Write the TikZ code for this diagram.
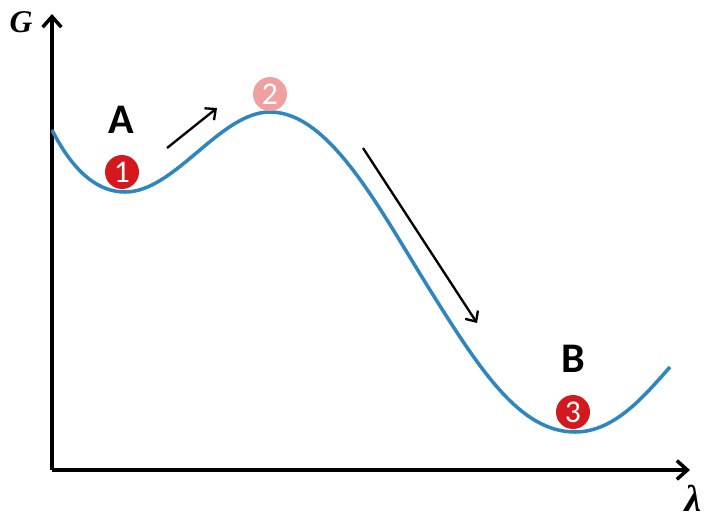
\documentclass[tikz,border=0pt]{standalone}
\usepackage{fontspec}
\setmainfont{Carlito}
\newfontfamily\axisfont{Liberation Serif}
\usetikzlibrary{arrows.meta}
\definecolor{curveblue}{RGB}{46,134,193}
\definecolor{statered}{RGB}{213,24,30}
\definecolor{statepink}{RGB}{240,160,160}
\begin{document}
\begin{tikzpicture}[x=0.03cm, y=-0.03cm,
		axis/.style={line width=3pt, -{Straight Barb[length=9pt,width=16pt,line width=3pt]}},
		move/.style={line width=2pt, -{Straight Barb[length=7pt,width=13pt,line width=2pt]}},
		statedot/.style={circle, minimum size=1.02cm, inner sep=0pt, text=white, font=\fontsize{27}{28}\selectfont},
		wellname/.style={font=\fontsize{36}{38}\selectfont\bfseries},
		axisname/.style={font=\axisfont\bfseries\itshape\fontsize{27}{28}\selectfont}]
			\useasboundingbox (0,0) rectangle (706,519);
			\coordinate (o) at (52,470);
			\coordinate (gtop) at (52,14);
			\coordinate (lend) at (690,470);
			\draw[axis] (o) -- (gtop);
			\draw[axis] (o) -- (lend);
			\node[axisname] (g) at (21,22) {G};
			\node[axisname, anchor=base, font=\axisfont\bfseries\itshape\fontsize{32}{32}\selectfont] (lam) at (693,511) {λ};
			\draw[curveblue, line width=3pt] (52,130) .. controls (75,175) and (100,192) .. (125,192)
				.. controls (175,192) and (220,112) .. (270,112)
				.. controls (330,112) and (380,210) .. (430,290)
				.. controls (480,370) and (520,432) .. (575,432)
				.. controls (615,432) and (645,395) .. (670,367);
			\node[statedot, fill=statered] (s1) at (122,172) {1};
			\node[statedot, fill=statepink] (s2) at (270,94) {2};
			\node[statedot, fill=statered] (s3) at (573,412) {3};
			\node[wellname] (wa) at (121,120) {A};
			\node[wellname] (wb) at (573,359) {B};
			\coordinate (up0) at (167,148);
			\coordinate (up1) at (217,108);
			\coordinate (dn0) at (363,148);
			\coordinate (dn1) at (477,323);
			\draw[move] (up0) -- (up1);
			\draw[move] (dn0) -- (dn1);
		\end{tikzpicture}
\end{document}
